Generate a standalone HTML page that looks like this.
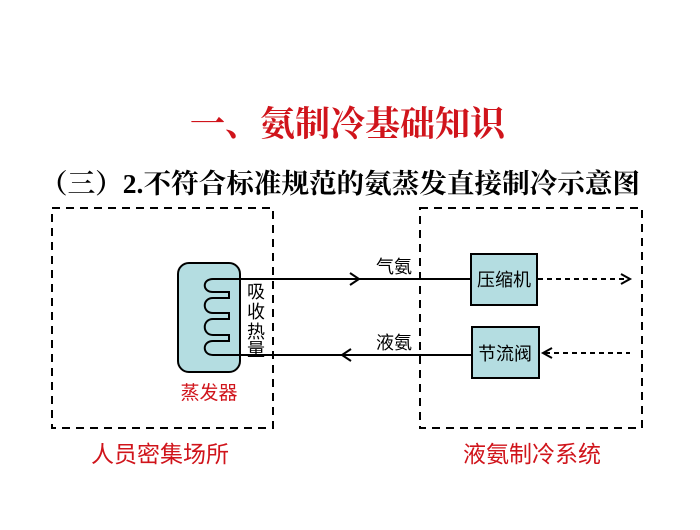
<!DOCTYPE html>
<html><head><meta charset="utf-8"><style>
body{margin:0;background:#fff;width:700px;height:525px;overflow:hidden}
</style></head><body>
<svg width="700" height="525" xmlns="http://www.w3.org/2000/svg" font-family="'Liberation Serif','Noto Serif CJK SC',serif">
<text x="190" y="136" textLength="315" lengthAdjust="spacingAndGlyphs" font-size="35" font-weight="bold" fill="#d0141b">一、氨制冷基础知识</text>
<text x="40" y="193" textLength="600" lengthAdjust="spacingAndGlyphs" font-size="27" font-weight="bold" fill="#000">（三）2.不符合标准规范的氨蒸发直接制冷示意图</text>
<g fill="none" stroke="#000" stroke-width="2" stroke-dasharray="8,6">
<rect x="52" y="208" width="221" height="220"/>
<rect x="420" y="208" width="222" height="220"/>
</g>
<rect x="178" y="263" width="62" height="109" rx="11" fill="#b4dde1" stroke="#000" stroke-width="2"/>
<path d="M240 279 H213 C202 279 202 292 213 292 H229 V298 H213 C202 298 202 313 213 313 H229 V319 H213 C202 319 202 335 213 335 H229 V341 H213 C202 341 202 355 213 355 H240" fill="none" stroke="#000" stroke-width="2"/>
<g stroke="#000" stroke-width="2" fill="none">
<line x1="225" y1="279" x2="471" y2="279"/>
<line x1="225" y1="355" x2="472" y2="355"/>
<polyline points="350,273 359,279 350,285"/>
<polyline points="351,349 342,355 351,361"/>
<line x1="538" y1="279" x2="629" y2="279" stroke-dasharray="5,4"/>
<polyline points="621,274 630,279 621,284"/>
<line x1="545" y1="353" x2="630" y2="353" stroke-dasharray="5,4"/>
<polyline points="552,348 543,353 552,358"/>
</g>
<rect x="471" y="254" width="66" height="51" fill="#b4dde1" stroke="#000" stroke-width="2"/>
<rect x="472" y="327" width="67" height="51" fill="#b4dde1" stroke="#000" stroke-width="2"/>
<g font-family="'Liberation Sans','Noto Sans CJK SC',sans-serif" font-size="18" fill="#000">
<text x="504" y="286" text-anchor="middle">压缩机</text>
<text x="505" y="360" text-anchor="middle">节流阀</text>
<text x="376" y="273">气氨</text>
<text x="376" y="349">液氨</text>
<text x="247" y="298">吸</text>
<text x="247" y="318">收</text>
<text x="247" y="338">热</text>
<text x="247" y="356">量</text>
<text x="209" y="399" text-anchor="middle" font-size="19" fill="#d0141b">蒸发器</text>
<text x="160" y="462" text-anchor="middle" font-size="23" fill="#d0141b">人员密集场所</text>
<text x="532" y="462" text-anchor="middle" font-size="23" fill="#d0141b">液氨制冷系统</text>
</g>
</svg>
</body></html>
